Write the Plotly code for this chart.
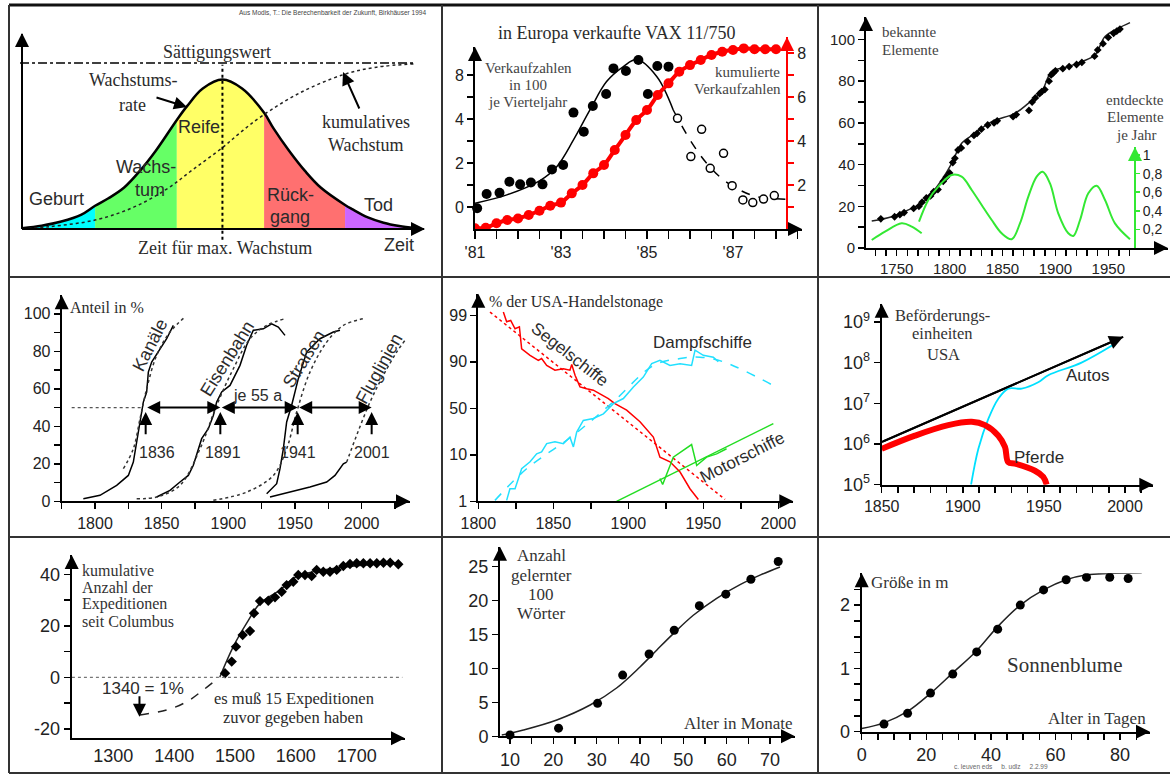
import numpy as np
import plotly.graph_objects as go

W, H = 1170, 775
OFF = 0  # body margin removed via post_script below
SANS = "Liberation Sans, Arial, sans-serif"
SERIF = "Liberation Serif, Times New Roman, serif"
TXT = "#2b2b2b"

# ================= DATA =================
# Panel 1: Lebenszyklus (Zeit in %, Werte in % des Sättigungswerts)
phase_t = [0, 5, 10, 15, 18.6, 22, 26, 30, 34, 39.4, 42, 46, 51, 56, 61.6, 64, 68, 72, 76, 82.2, 84, 88, 92, 96, 100]
phase_rate = [0.5, 2, 4.5, 8.5, 14, 18.5, 25, 35, 47, 65.7, 74, 84.6, 90, 84.6, 70, 60.6, 47, 35, 25, 14.5, 12, 7, 3.8, 1.8, 0.5]
cum_t = [0, 7, 18.6, 28.3, 36.8, 43.6, 51, 55.5, 61, 70.7, 81.8, 90.2, 100]
cum_growth = [0, 1.4, 5.4, 13, 24, 36, 49, 58, 68, 82, 93, 97.5, 99.5]
phase_bounds = [0, 18.6, 39.4, 61.6, 82.2, 100]
phase_colors = ["#00FFFF", "#66FF66", "#FFFF66", "#FF7070", "#CC66FF"]
saturation = 100
t_max_growth = 51

# Panel 2: VAX 11/750 (left axis in tick units)
vax_year = [1981.05, 1981.27, 1981.57, 1981.80, 1982.05, 1982.30, 1982.57, 1982.79, 1983.05, 1983.29,
            1983.53, 1983.74, 1984.05, 1984.22, 1984.51, 1984.80, 1985.02, 1985.24, 1985.50]
vax_sales = [-0.06, 0.59, 0.65, 1.15, 1.03, 1.11, 1.03, 1.71, 1.91, 4.29,
             3.42, 4.59, 5.14, 6.30, 6.18, 6.68, 5.14, 6.41, 6.38]
vax_year_late = [1985.71, 1986.02, 1986.27, 1986.47, 1986.78, 1986.98, 1987.23, 1987.46, 1987.71, 1987.96]
vax_sales_late = [4.03, 2.29, 3.53, 1.76, 2.44, 0.97, 0.32, 0.20, 0.36, 0.52]
vax_fit_year = [1981.0, 1981.74, 1982.51, 1982.9, 1983.29, 1983.67, 1984.06, 1984.45, 1984.76, 1985.23, 1985.61]
vax_fit = [0.17, 0.55, 1.2, 1.83, 3.05, 4.4, 5.7, 6.38, 6.7, 5.92, 4.41]
vax_proj_year = [1985.61, 1986.0, 1986.39, 1986.78, 1987.16, 1987.55, 1988.25]
vax_proj = [4.41, 3.05, 1.98, 1.23, 0.77, 0.47, 0.35]
vax_cum_year = [1981 + 0.25 * i for i in range(29)]
vax_cum = [0.03, 0.06, 0.26, 0.41, 0.48, 0.64, 0.83, 1.06, 1.2, 1.62, 2.0, 2.53, 2.91, 3.59, 4.27,
           4.95, 5.41, 6.09, 6.62, 7.15, 7.45, 7.68, 7.91, 8.06, 8.14, 8.21, 8.17, 8.17, 8.17]
vax_left_ticks = [0, 1, 2, 3, 4, 5, 6]
vax_left_labels = ["0", "", "2", "", "4", "", "8"]
vax_x_ticks = [1981 + 0.5 * i for i in range(16)]
vax_x_named = {1981: "'81", 1983: "'83", 1985: "'85", 1987: "'87"}

# Panel 3: chemische Elemente
elem_curve_year = [1726.4, 1745.3, 1764.2, 1773.6, 1783.1, 1792.5, 1802.0, 1811.4, 1824.0, 1839.8,
                   1861.8, 1874.4, 1887.0, 1896.5, 1912.2, 1924.9, 1937.4, 1946.9, 1959.5, 1970.5]
elem_curve = [12.9, 15.0, 19.0, 21.4, 26.2, 32.6, 40.6, 50.2, 55.0, 60.6,
              64.6, 69.4, 75.0, 84.6, 87.0, 89.4, 92.6, 101.4, 105.4, 108.1]
elem_year = [1735, 1748, 1753, 1757, 1766, 1771, 1774, 1778, 1782, 1785, 1789, 1794, 1797, 1800, 1803,
             1805, 1808, 1811, 1817, 1823, 1826, 1830, 1836, 1842, 1845, 1860, 1863, 1875, 1878, 1881,
             1885, 1887, 1890, 1894, 1896, 1898, 1900, 1907, 1913, 1920, 1925, 1937, 1940, 1945, 1950,
             1955, 1958, 1961]
elem_known = [14, 15, 16, 17, 19, 20, 22, 24, 25, 27, 28, 32, 34, 36, 41,
              43, 47, 48, 51, 54, 55, 57, 59, 60, 61, 63, 64, 66, 70, 72,
              74, 75, 76, 80, 83, 84, 85, 86, 87, 88, 89, 92, 95, 98, 101,
              103, 104, 105]
disc1_year = [1726.4, 1738.9, 1754.7, 1764.2, 1773.6]
disc1 = [0.086, 0.175, 0.265, 0.23, 0.158]
disc2_year = [1771.1, 1779.9, 1789.3, 1802.0, 1811.4, 1820.9, 1830.3, 1839.8, 1849.2, 1858.7, 1866.5,
              1874.4, 1882.3, 1888.0, 1894.9, 1902.7, 1912.2, 1916.9, 1923.3, 1931.1, 1939.0, 1946.9,
              1956.3, 1970.5]
disc2 = [0.283, 0.516, 0.66, 0.785, 0.767, 0.624, 0.462, 0.301, 0.158, 0.094, 0.265,
         0.552, 0.767, 0.82, 0.695, 0.373, 0.158, 0.129, 0.301, 0.588, 0.67, 0.516,
         0.265, 0.094]

# Panel 4: Infrastruktur (Anteil in %)
kan_year = [1791.25, 1803.75, 1816.25, 1825, 1828.75, 1831.25, 1833.75, 1836.25, 1838.75, 1840, 1842.5, 1847.5, 1853.75, 1858.75]
kan = [1.4, 3.2, 8.5, 13.8, 20.9, 31.6, 42.3, 52.9, 58.3, 68.9, 74.3, 79.6, 86.7, 93.8]
kan_fit_year = [1821.25, 1828.75, 1833.75, 1838.75, 1846.25, 1856.25, 1867.5]
kan_fit = [17.4, 28, 44, 60, 77.8, 90.3, 98.3]
eis_year = [1846.25, 1856.25, 1863.75, 1870, 1873.75, 1880, 1885, 1888.75, 1891.25, 1895, 1901.25, 1908.75,
            1913.75, 1918.75, 1926.25, 1932.5, 1937.5, 1942.5]
eis = [2.3, 5.8, 10.3, 13.8, 19.2, 33.4, 38.7, 45.8, 52.9, 58.3, 61.8, 72.5, 83.2, 91.2, 92.0, 94.7, 92.9, 88.5]
eis_fit_year = [1831.25, 1846.25, 1863.75, 1878.75, 1891.25, 1903.75, 1916.25, 1928.75, 1942.5]
eis_fit = [1.4, 2.3, 8.5, 28, 51.2, 70.7, 86.7, 93.8, 97.4]
str_year = [1928.75, 1936.25, 1938.75, 1941.25, 1943.75, 1947.5, 1952.5, 1958.75, 1968.75, 1978.75, 1983.75]
strassen = [4.0, 9.4, 17.4, 28, 42.3, 51.2, 65.4, 79.6, 86.7, 90.3, 91.2]
str_fit_year = [1888.75, 1913.75, 1933.75, 1943.75, 1951.25, 1961.25, 1973.75, 1986.25, 2001.25]
str_fit = [0.5, 4.9, 13.8, 28, 47.6, 68.9, 84.9, 93.8, 97.4]
flug_year = [1931.25, 1946.25, 1961.25, 1973.75, 1980, 1986.25, 1988.75]
flug = [2.3, 4.9, 7.6, 10.3, 13.8, 20.0, 20.9]
flug_fit_year = [1988.75, 1996.25, 2006.25, 2016.25, 2026.25, 2032.5]
flug_fit = [20.9, 35.2, 52.9, 67.2, 79.6, 85.8]
half_level = 50
event_year = [1838, 1894, 1952, 2007.5]
event_label = ["1836", "1891", "1941", "2001"]

# Panel 5: USA-Handelstonage (Logit-Stufen: 1,10,50,90,99 %)
logit_labels = ["1", "10", "50", "90", "99"]
seg_year = [1816.7, 1818.9, 1821.6, 1824.5, 1827.4, 1828.9, 1834.5, 1840.0, 1842.2, 1845.6, 1851.1, 1856.7,
            1861.1, 1862.3, 1864.5, 1867.8, 1872.2, 1876.7, 1881.1, 1886.7, 1891.1, 1898.9, 1907.8, 1916.7,
            1921.1, 1927.8, 1934.5, 1941.1, 1946.7]
seg = [4.07, 3.86, 3.89, 3.71, 3.75, 3.28, 3.14, 3.03, 3.07, 2.92, 2.82, 2.85,
       2.82, 2.94, 2.71, 2.46, 2.42, 2.39, 2.31, 2.21, 2.10, 1.96, 1.71, 1.38,
       0.95, 0.85, 0.63, 0.27, 0.04]
seg_fit_year = [1807.8, 1964.5]
seg_fit = [4.07, 0.04]
dam_year = [1818.9, 1821.1, 1824.5, 1828.9, 1834.5, 1838.9, 1842.2, 1845.6, 1851.1, 1856.7, 1861.1, 1863.4,
            1865.6, 1870.0, 1876.7, 1883.4, 1890.0, 1896.7, 1903.4, 1910.0, 1915.6, 1921.1, 1927.8, 1934.5,
            1942.2, 1944.5, 1950.0, 1956.7, 1960.0]
dam = [0.02, 0.27, 0.27, 0.70, 0.85, 1.02, 1.06, 1.24, 1.28, 1.24, 1.38, 1.17,
       1.49, 1.74, 1.78, 1.88, 2.10, 2.21, 2.46, 2.67, 2.96, 3.03, 2.92, 2.96,
       2.92, 3.25, 3.14, 3.10, 3.0]
dam_fit_year = [1811.1, 1832.2, 1863.4, 1890.0, 1916.7, 1934.5, 1947.8, 1963.4, 1996.7]
dam_fit = [0.02, 0.70, 1.42, 2.14, 2.92, 3.07, 3.10, 3.0, 2.49]
mot_fit_year = [1892.2, 1996.7]
mot_fit = [0.0, 1.67]
mot_year = [1921.1, 1922.9, 1930.0, 1942.2, 1945.6, 1952.2, 1958.9, 1965.5]
mot = [0.49, 0.36, 0.95, 1.22, 0.77, 0.95, 1.02, 1.13]

# Panel 6: Beförderungseinheiten USA
trend_year = [1850, 1998.9]
trend = [1.12e6, 4.3e8]
pferde_year = [1850, 1870.5, 1891, 1905.5, 1913.7, 1921.9, 1926, 1928, 1932.2, 1944.5, 1949.6, 1951.7]
pferde = [7.6e5, 1.6e6, 2.9e6, 3.5e6, 2.9e6, 1.6e6, 8.5e5, 3.6e5, 3.3e5, 2.2e5, 1.55e5, 1.0e5]
autos_year = [1905.1, 1909.6, 1915.8, 1921.9, 1928, 1936.3, 1946.5, 1952.7, 1973.2, 1993.8]
autos = [1.0e5, 7.6e5, 4.2e6, 1.3e7, 2.3e7, 2.3e7, 3.3e7, 4.9e7, 1.0e8, 2.9e8]

# Panel 7: Expeditionen seit Columbus
exp_year = [1483.6, 1494.6, 1501.6, 1512.6, 1524.6, 1531.2, 1541.1, 1554.7, 1565.7, 1576.7, 1584.9, 1595.8,
            1604, 1615, 1626, 1634.2, 1645.1, 1656.1, 1667.1, 1678, 1689, 1700, 1711, 1722, 1733, 1744,
            1755, 1768.4]
exp_count = [1.6, 6.1, 11.9, 16.4, 18.0, 24.9, 29.6, 29.7, 31.1, 33.2, 35.8, 37.1,
             39.7, 39.7, 39.3, 41.7, 41.0, 41.0, 41.7, 43.2, 44.0, 44.3, 44.3, 44.3, 44.3, 44.5,
             44.5, 43.9]
exp_fit_year = [1475.3, 1497.2, 1519.2, 1541.1, 1573.9, 1595.8, 1617.8, 1661.5, 1716.4, 1771.2]
exp_fit = [0.2, 11.9, 21.0, 28.7, 33.9, 38.4, 40.4, 42.3, 43.6, 44.3]
exp_back_year = [1343.9, 1387.8, 1420.6, 1447.9, 1475.3]
exp_back = [-14.6, -12.7, -9.5, -4.9, 0.2]
exp_start_year = 1343
exp_start_level = -15.3

# Panel 8: Wortschatz
word_age = [10, 21.2, 30.2, 36.0, 42.1, 47.9, 53.7, 59.8, 65.6, 71.9]
word_count = [0.19, 1.2, 4.85, 9.0, 12.1, 15.6, 19.2, 20.9, 23.1, 25.7]
word_fit_age = [8.1, 13.1, 20.8, 28.5, 34.6, 40.0, 43.9, 47.7, 52.3, 57.7, 63.1, 67.7, 72.3]
word_fit = [0.19, 0.93, 2.4, 4.6, 7.1, 10.2, 12.7, 15.1, 17.8, 20.3, 22.3, 23.7, 24.9]

# Panel 9: Sonnenblume
sun_day = [6.9, 14.2, 21.3, 28.2, 35.6, 42.1, 49.1, 56.3, 63.3, 69.6, 76.8, 82.5]
sun_height = [0.12, 0.29, 0.61, 0.91, 1.26, 1.62, 2.0, 2.24, 2.4, 2.44, 2.44, 2.42]
sun_fit_day = [0, 6.9, 14.2, 21.4, 28.2, 35.6, 42.1, 49.1, 56.3, 63.3, 69.7, 76.3, 86.7]
sun_fit = [0.05, 0.14, 0.32, 0.61, 0.93, 1.28, 1.66, 2.0, 2.24, 2.40, 2.48, 2.50, 2.51]

# ================= LAYOUT HELPERS =================
annotations = []
shapes = []
layout_axes = {}


def X(px):
    return (px - OFF) / W


def Y(py):
    return 1 - (py - OFF) / H


def ticks_cfg(vals, texts, size=15, tickcolor="black", color="#222", ticks="outside", ticklen=6):
    return dict(tickmode="array", tickvals=vals, ticktext=texts, ticks=ticks, ticklen=ticklen,
                tickwidth=1.5, tickcolor=tickcolor,
                tickfont=dict(family=SANS, size=size, color=color))


def base_axis():
    return dict(showgrid=False, zeroline=False, showline=True, linecolor="black", linewidth=2,
                fixedrange=True, automargin=False)


def xax(name, d0, d1, p_a, v_a, ppu, anchor, tick=None, **kw):
    ax = base_axis()
    ax.update(domain=[X(d0), X(d1)], range=[v_a + (d0 - p_a) / ppu, v_a + (d1 - p_a) / ppu], anchor=anchor)
    if tick:
        ax.update(tick)
    else:
        ax.update(showticklabels=False, ticks="")
    ax.update(kw)
    layout_axes[name] = ax


def yax(name, d_top, d_bot, p_a, v_a, ppu, anchor, tick=None, **kw):
    ax = base_axis()
    ax.update(domain=[Y(d_bot), Y(d_top)],
              range=[v_a + (p_a - d_bot) / ppu, v_a + (p_a - d_top) / ppu], anchor=anchor)
    if tick:
        ax.update(tick)
    else:
        ax.update(showticklabels=False, ticks="")
    ax.update(kw)
    layout_axes[name] = ax


def txt(px, py, s, size, family=SERIF, color=TXT, xanchor="center", angle=0):
    annotations.append(dict(x=X(px), y=Y(py), xref="paper", yref="paper", text=s, showarrow=False,
                            font=dict(family=family, size=size, color=color), xanchor=xanchor,
                            yanchor="middle", textangle=angle))


def head(px, py, direction, color="black"):
    off = {"up": (0, 14), "right": (-14, 0), "down": (0, -14)}[direction]
    annotations.append(dict(x=X(px), y=Y(py), xref="paper", yref="paper", text="", showarrow=True,
                            ax=off[0], ay=off[1], arrowhead=2, arrowsize=1.4, arrowwidth=2,
                            arrowcolor=color))


def pointer(px, py, dx, dy):
    annotations.append(dict(x=X(px), y=Y(py), xref="paper", yref="paper", text="", showarrow=True,
                            ax=dx, ay=dy, arrowhead=2, arrowsize=1.3, arrowwidth=2, arrowcolor="black"))


def data_arrow(xa, ya, x, y, x0, y0, both=False, size=1.3):
    d = dict(x=x, y=y, ax=x0, ay=y0, xref=xa, yref=ya, axref=xa, ayref=ya, text="", showarrow=True,
             arrowhead=2, arrowsize=size, arrowwidth=2, arrowcolor="black")
    if both:
        d.update(arrowside="end+start", startarrowhead=2, startarrowsize=size)
    annotations.append(d)


def pline(x0, y0, x1, y1, width=2, color="#333"):
    shapes.append(dict(type="line", xref="paper", yref="paper", x0=X(x0), y0=Y(y0),
                       x1=X(x1), y1=Y(y1), line=dict(color=color, width=width)))


fig = go.Figure()


def sc(x, y, xa, ya, **kw):
    fig.add_trace(go.Scatter(x=x, y=y, xaxis=xa, yaxis=ya, hoverinfo="skip", **kw))


# ================= PANEL 1 =================
xax("xaxis", 19, 425, 22, 0, 3.93, "y", showline=False)
yax("yaxis", 33, 240, 229, 0, 1.66, "x", showline=False)
for i, col in enumerate(phase_colors):
    lo, hi = phase_bounds[i], phase_bounds[i + 1]
    xs = [t for t in phase_t if lo <= t <= hi]
    ys = [r for t, r in zip(phase_t, phase_rate) if lo <= t <= hi]
    sc(xs, ys, "x", "y", mode="lines", fill="tozeroy", fillcolor=col,
       line=dict(width=0, shape="spline", color=col))
sc(phase_t, phase_rate, "x", "y", mode="lines", line=dict(color="black", width=2.5, shape="spline"))
sc(cum_t, cum_growth, "x", "y", mode="lines", line=dict(color="#222", width=1.5, dash="dot", shape="spline"))
shapes.append(dict(type="line", xref="x", yref="y", x0=-0.5, x1=100, y0=saturation, y1=saturation,
                   line=dict(color="black", width=1.5, dash="dashdot")))
shapes.append(dict(type="line", xref="x", yref="y", x0=t_max_growth, x1=t_max_growth, y0=-6.5, y1=99,
                   line=dict(color="black", width=2, dash="dot")))
shapes.append(dict(type="line", xref="x", yref="y", x0=0, x1=0, y0=0, y1=117.5,
                   line=dict(color="black", width=2)))
shapes.append(dict(type="line", xref="x", yref="y", x0=0, x1=102.3, y0=0, y1=0,
                   line=dict(color="black", width=2)))
head(22, 33, "up")
head(425, 229, "right")
txt(428, 13, "Aus Modis, T.: Die Berechenbarkeit der Zukunft, Birkhäuser 1994", 6.5, SANS, "#444", "right")
txt(217, 52, "Sättigungswert", 18)
txt(133, 80, "Wachstums-", 18)
txt(132, 105, "rate", 18)
txt(199, 127, "Reife", 18, SANS)
txt(146, 167, "Wachs-", 18, SANS)
txt(150, 190, "tum", 18, SANS)
txt(56, 199, "Geburt", 18, SANS)
txt(290, 195, "Rück-", 18, SANS)
txt(290, 217, "gang", 18, SANS)
txt(378, 205, "Tod", 18, SANS)
txt(366, 122, "kumulatives", 18)
txt(366, 145, "Wachstum", 18)
txt(225, 248, "Zeit für max. Wachstum", 18)
txt(399, 245, "Zeit", 18, SANS)
pointer(187, 107, -32, -10)
pointer(343, 72, 17, 38)

# ================= PANEL 2 =================
xax("xaxis2", 475, 802, 475, 1981, 43, "y2",
    ticks_cfg(vax_x_ticks, [vax_x_named.get(v, "") for v in vax_x_ticks], 16, ticklen=8))
yax("yaxis2", 47, 229, 207, 0, 22, "x2", ticks_cfg(vax_left_ticks, vax_left_labels, 16))
red_ticks = list(range(1, 9))
yax("yaxis10", 37, 229, 229, 0, 22, "free",
    ticks_cfg(red_ticks, [str(v) if v % 2 == 0 else "" for v in red_ticks], 16, tickcolor="red"),
    position=X(787), side="right", linecolor="red")
sc(vax_cum_year, vax_cum, "x2", "y10", mode="lines+markers", line=dict(color="red", width=4, shape="spline"),
   marker=dict(color="red", size=10))
sc(vax_fit_year, vax_fit, "x2", "y2", mode="lines", line=dict(color="black", width=1.5, shape="spline"))
sc(vax_proj_year, vax_proj, "x2", "y2", mode="lines", line=dict(color="black", width=1.5, dash="dash", shape="spline"))
sc(vax_year, vax_sales, "x2", "y2", mode="markers", marker=dict(color="black", size=10), cliponaxis=False)
sc(vax_year_late, vax_sales_late, "x2", "y2", mode="markers",
   marker=dict(color="white", size=8, line=dict(color="black", width=1.5)))
head(475, 47, "up")
head(787, 37, "up", "red")
head(802, 229, "right")
txt(617, 33, "in Europa verkaufte VAX 11/750", 18)
txt(528, 68, "Verkaufzahlen", 15, color="#444")
txt(528, 85, "in 100", 15, color="#444")
txt(527, 102, "je Vierteljahr", 15, color="#444")
txt(747, 72, "kumulierte", 15, color="#444")
txt(737, 89, "Verkaufzahlen", 15, color="#444")

# ================= PANEL 3 =================
x3t = list(range(1730, 1971, 10))
xax("xaxis3", 866, 1168, 896.7, 1750, 1.058, "y3",
    ticks_cfg(x3t, [str(v) if v % 50 == 0 else "" for v in x3t], 15))
y3t = list(range(0, 101, 10))
yax("yaxis3", 17, 248, 248, 0, 2.085, "x3", ticks_cfg(y3t, [str(v) if v % 20 == 0 else "" for v in y3t], 15))
g_t = [0.2, 0.4, 0.6, 0.8, 1.0]
yax("yaxis11", 147, 248, 248, 0, 93, "free",
    ticks_cfg(g_t, ["0,2", "0,4", "0,6", "0,8", "1"], 14, tickcolor="#33E833", ticklen=4),
    position=X(1135), side="right", linecolor="#33E833")
sc(disc1_year, disc1, "x3", "y11", mode="lines", line=dict(color="#33E833", width=2, shape="spline"))
sc(disc2_year, disc2, "x3", "y11", mode="lines", line=dict(color="#33E833", width=2, shape="spline"))
sc(elem_curve_year, elem_curve, "x3", "y3", mode="lines", line=dict(color="#222", width=1.5, shape="spline"))
sc(elem_year, elem_known, "x3", "y3", mode="markers", marker=dict(color="black", size=6, symbol="diamond"))
head(866, 17, "up")
head(1168, 248, "right")
head(1135, 147, "up", "#33E833")
txt(880, 32, "bekannte", 15, xanchor="left", color="#444")
txt(880, 50, "Elemente", 15, xanchor="left", color="#444")
txt(1135, 100, "entdeckte", 15, color="#444")
txt(1135, 117, "Elemente", 15, color="#444")
txt(1136, 135, "je Jahr", 15, color="#444")

# ================= PANEL 4 =================
x4t = list(range(1775, 2026, 25))
xax("xaxis4", 61.7, 410, 95, 1800, 1.3333, "y4",
    ticks_cfg(x4t, [str(v) if v % 50 == 0 else "" for v in x4t], 16))
y4t = list(range(0, 101, 10))
yax("yaxis4", 295.3, 501.3, 501.3, 0, 1.875, "x4", ticks_cfg(y4t, [str(v) if v % 20 == 0 else "" for v in y4t], 16))
for xs, ys in [(kan_year, kan), (eis_year, eis), (str_year, strassen), (flug_year, flug)]:
    sc(xs, ys, "x4", "y4", mode="lines", line=dict(color="black", width=1.5))
for xs, ys in [(kan_fit_year, kan_fit), (eis_fit_year, eis_fit), (str_fit_year, str_fit), (flug_fit_year, flug_fit)]:
    sc(xs, ys, "x4", "y4", mode="lines", line=dict(color="#333", width=1.5, dash="dot", shape="spline"))
shapes.append(dict(type="line", xref="x4", yref="y4", x0=1782.5, x1=1835, y0=half_level, y1=half_level,
                   line=dict(color="#555", width=1.2, dash="dot")))
for i in range(len(event_year) - 1):
    data_arrow("x4", "y4", event_year[i + 1], half_level, event_year[i], half_level, both=True)
label_px = [156.7, 223.3, 298.3, 371.7]
for ex, lab, lpx in zip(event_year, event_label, label_px):
    data_arrow("x4", "y4", ex, 47.6, ex, 35)
    txt(lpx, 452, lab, 16, SANS)
head(61.7, 295.3, "up")
head(410, 501.3, "right")
txt(68, 307, "Anteil in %", 16, xanchor="left")
txt(257, 395, "je 55 a", 16, SANS)
txt(150, 345, "Kanäle", 18, SANS, angle=-63)
txt(227, 359, "Eisenbahn", 18, SANS, angle=-58)
txt(304, 359, "Straßen", 18, SANS, angle=-58)
txt(379, 369, "Fluglinien", 18, SANS, angle=-61)

# ================= PANEL 5 =================
x5t = list(range(1800, 2001, 25))
xax("xaxis5", 478.3, 793.3, 478.3, 1800, 1.5, "y5",
    ticks_cfg(x5t, [str(v) if v % 50 == 0 else "" for v in x5t], 16))
yax("yaxis5", 293.7, 501.3, 501.3, 0, 46.5, "x5", ticks_cfg([0, 1, 2, 3, 4], logit_labels, 16))
sc(seg_fit_year, seg_fit, "x5", "y5", mode="lines", line=dict(color="red", width=1.5, dash="dot"))
sc(dam_fit_year, dam_fit, "x5", "y5", mode="lines", line=dict(color="#22E0FF", width=1.5, dash="dash", shape="spline"))
sc(mot_fit_year, mot_fit, "x5", "y5", mode="lines", line=dict(color="#22DD22", width=1.5))
sc(seg_year, seg, "x5", "y5", mode="lines", line=dict(color="red", width=1.5))
sc(dam_year, dam, "x5", "y5", mode="lines", line=dict(color="#22E0FF", width=1.5))
sc(mot_year, mot, "x5", "y5", mode="lines", line=dict(color="#22DD22", width=1.5))
head(478.3, 293.7, "up")
head(793.3, 501.3, "right")
txt(487, 302, "% der USA-Handelstonage", 16, xanchor="left")
txt(570, 354, "Segelschiffe", 17, SANS, angle=38)
txt(702, 342, "Dampfschiffe", 17, SANS)
txt(742, 457, "Motorschiffe", 17, SANS, angle=-27)

# ================= PANEL 6 =================
x6t = list(range(1850, 2011, 10))
xax("xaxis6", 881.7, 1153.3, 881.7, 1850, 1.622, "y6",
    ticks_cfg(x6t, [str(v) if v % 50 == 0 else "" for v in x6t], 16))
y6v = [1e5, 1e6, 1e7, 1e8, 1e9]
yax("yaxis6", 303.7, 484.7, 484.7, 5, 40.7, "x6",
    ticks_cfg(y6v, ["10<sup>%d</sup>" % e for e in range(5, 10)], 18), type="log")
sc(trend_year, trend, "x6", "y6", mode="lines", line=dict(color="black", width=2))
sc(autos_year, autos, "x6", "y6", mode="lines", line=dict(color="#00E0FF", width=1.8, shape="spline"))
sc(pferde_year, pferde, "x6", "y6", mode="lines", line=dict(color="red", width=6, shape="spline"))
data_arrow("x6", "y6", trend_year[1], float(np.log10(trend[1])), trend_year[0], float(np.log10(trend[0])), size=1.4)
head(881.7, 303.7, "up")
head(1153.3, 484.7, "right")
txt(942, 315, "Beförderungs-", 16.5, color="#333")
txt(942, 334, "einheiten", 16.5, color="#333")
txt(943, 354, "USA", 16.5, color="#333")
txt(1087, 375, "Autos", 17, SANS)
txt(1039, 457, "Pferde", 17, SANS)

# ================= PANEL 7 =================
x7t = [1300, 1400, 1500, 1600, 1700]
xax("xaxis7", 71.7, 405, 113.3, 1300, 0.6085, "y7", ticks_cfg(x7t, [str(v) for v in x7t], 18, ticks=""))
y7t = list(range(-20, 41, 10))
yax("yaxis7", 555, 738.3, 677.3, 0, 2.575, "x7", ticks_cfg(y7t, [str(v) if v % 20 == 0 else "" for v in y7t], 18))
shapes.append(dict(type="line", xref="x7", yref="y7", x0=1232, x1=1775, y0=0, y1=0,
                   line=dict(color="#777", width=1.2, dash="dot")))
sc(exp_back_year, exp_back, "x7", "y7", mode="lines", line=dict(color="#222", width=1.5, dash="dash", shape="spline"))
sc(exp_fit_year, exp_fit, "x7", "y7", mode="lines", line=dict(color="#222", width=1.5, shape="spline"))
sc(exp_year, exp_count, "x7", "y7", mode="markers", marker=dict(color="black", size=8, symbol="diamond"))
data_arrow("x7", "y7", exp_start_year, exp_start_level, exp_start_year, -6.8)
head(71.7, 555, "up")
head(405, 738.3, "right")
txt(80, 570, "kumulative", 16, xanchor="left", color="#333")
txt(80, 587, "Anzahl der", 16, xanchor="left", color="#333")
txt(80, 604, "Expeditionen", 16, xanchor="left", color="#333")
txt(80, 621, "seit Columbus", 16, xanchor="left", color="#333")
txt(143, 688, "1340 = 1%", 17, SANS)
txt(294, 698, "es muß 15 Expeditionen", 16.5)
txt(293, 717, "zuvor gegeben haben", 16.5)

# ================= PANEL 8 =================
x8t = list(range(10, 71, 5))
xax("xaxis8", 500, 795, 510, 10, 4.333, "y8", ticks_cfg(x8t, [str(v) if v % 10 == 0 else "" for v in x8t], 18))
y8t = list(range(0, 26, 5))
yax("yaxis8", 546.7, 736.3, 736.3, 0, 6.8, "x8", ticks_cfg(y8t, [str(v) for v in y8t], 18))
sc(word_fit_age, word_fit, "x8", "y8", mode="lines", line=dict(color="#222", width=1.5, shape="spline"))
sc(word_age, word_count, "x8", "y8", mode="markers", marker=dict(color="black", size=9), cliponaxis=False)
head(500, 546.7, "up")
head(795, 736.3, "right")
txt(541, 555, "Anzahl", 17, color="#333")
txt(541, 575, "gelernter", 17, color="#333")
txt(541, 594, "100", 17, color="#333")
txt(541, 613, "Wörter", 17, color="#333")
txt(738, 723, "Alter in Monate", 17, color="#333")

# ================= PANEL 9 =================
x9t = list(range(0, 86, 5))
xax("xaxis9", 861.7, 1150, 861.7, 0, 3.23, "y9", ticks_cfg(x9t, [str(v) if v % 20 == 0 else "" for v in x9t], 18))
y9t = [0.25 * i for i in range(10)]
yax("yaxis9", 573.3, 731.7, 731.7, 0, 63.3, "x9",
    ticks_cfg(y9t, [str(int(v)) if v in (0, 1, 2) else "" for v in y9t], 18))
sc(sun_fit_day, sun_fit, "x9", "y9", mode="lines", line=dict(color="#222", width=1.5, shape="spline"))
sc(sun_day, sun_height, "x9", "y9", mode="markers", marker=dict(color="black", size=9))
head(861.7, 573.3, "up")
head(1150, 731.7, "right")
txt(869, 582, "Größe in m", 17, xanchor="left", color="#333")
txt(1065, 665, "Sonnenblume", 21, color="#333")
txt(1097, 718, "Alter in Tagen", 17, color="#333")

# ================= FRAME =================
pline(9, 5, 1170, 5, 3, "#111")
pline(9, 5, 9, 773, 2)
pline(9, 773, 1170, 773, 2)
pline(442, 5, 442, 773, 2)
pline(818, 5, 818, 773, 2)
pline(9, 277, 1170, 277, 2)
pline(9, 537, 1170, 537, 2)
annotations.append(dict(x=X(1050), y=Y(772), xref="paper", yref="paper", showarrow=False,
                        text="c. leuven eds     b. udlz     2.2.99", bgcolor="white",
                        font=dict(family=SANS, size=6.5, color="#666")))

fig.update_layout(template="none", width=W, height=H,
                  margin=dict(l=0, r=0, t=0, b=0, pad=0, autoexpand=False),
                  paper_bgcolor="white", plot_bgcolor="rgba(0,0,0,0)", showlegend=False,
                  annotations=annotations, shapes=shapes, **layout_axes)
fig.write_html("out.html", config={"displayModeBar": False, "staticPlot": True},
               post_script="document.body.style.margin='0px';document.body.style.overflow='hidden';")
